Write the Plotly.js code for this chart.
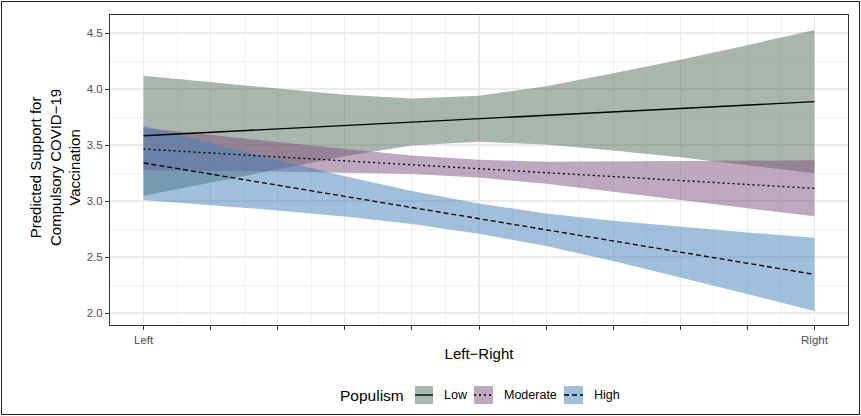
<!DOCTYPE html>
<html>
<head>
<meta charset="utf-8">
<script src="https://cdn.plot.ly/plotly-3.0.1.min.js"></script>
<style>
  html, body { margin: 0; padding: 0; background: #fff; }
  #wrap { position: relative; width: 861px; height: 416px; }
  #plot { width: 861px; height: 416px; }
  #frame { position: absolute; left: 1px; top: 1px; width: 857px; height: 412px; border: 1px solid #222; pointer-events: none; }
</style>
</head>
<body>
<div id="wrap"><div id="plot"></div><div id="frame"></div></div>
<script>
// ----- data -----
const leftRight = [0, 1, 2, 3, 4, 5, 6, 7, 8, 9, 10];
const xTickText = ["Left", "", "", "", "", "", "", "", "", "", "Right"];
const groups = ["Low", "Moderate", "High"];

const lowFit   = [3.583, 3.613, 3.644, 3.674, 3.705, 3.735, 3.765, 3.796, 3.826, 3.857, 3.887];
const lowUpper = [4.118, 4.058, 4.004, 3.949, 3.915, 3.940, 4.025, 4.141, 4.261, 4.392, 4.527];
const lowLower = [3.048, 3.168, 3.284, 3.399, 3.495, 3.530, 3.505, 3.451, 3.391, 3.322, 3.247];

const modFit   = [3.464, 3.429, 3.394, 3.359, 3.324, 3.289, 3.253, 3.218, 3.183, 3.148, 3.113];
const modUpper = [3.654, 3.589, 3.524, 3.464, 3.407, 3.369, 3.351, 3.353, 3.355, 3.358, 3.363];
const modLower = [3.274, 3.269, 3.264, 3.254, 3.241, 3.209, 3.155, 3.083, 3.011, 2.938, 2.863];

const highFit   = [3.340, 3.241, 3.141, 3.042, 2.942, 2.843, 2.743, 2.644, 2.544, 2.445, 2.345];
const highUpper = [3.670, 3.516, 3.366, 3.222, 3.089, 2.978, 2.888, 2.824, 2.769, 2.720, 2.673];
const highLower = [3.010, 2.966, 2.916, 2.862, 2.795, 2.708, 2.598, 2.464, 2.319, 2.170, 2.017];

// ----- styling -----
const FONT = "Liberation Sans, Arial, Helvetica, sans-serif";
const fillColors = ["rgba(85,107,91,0.5)", "rgba(125,81,125,0.5)", "rgba(65,127,181,0.5)"];
const dashes = ["solid", "2px,3px", "5px,3px"];

const series = [
  { fit: lowFit, up: lowUpper, lo: lowLower },
  { fit: modFit, up: modUpper, lo: modLower },
  { fit: highFit, up: highUpper, lo: highLower }
];

const traces = [];
series.forEach((s, i) => {
  traces.push({
    type: "scatter", mode: "lines",
    x: leftRight.concat(leftRight.slice().reverse()),
    y: s.up.concat(s.lo.slice().reverse()),
    fill: "toself", fillcolor: fillColors[i],
    line: { width: 0, color: "rgba(0,0,0,0)" },
    hoverinfo: "skip", showlegend: false, name: groups[i] + " CI"
  });
});
series.forEach((s, i) => {
  traces.push({
    type: "scatter", mode: "lines",
    x: leftRight, y: s.fit,
    line: { color: "#000", width: 1.3, dash: dashes[i] },
    showlegend: false, name: groups[i]
  });
});

// plot area geometry (px) for placing legend/titles in paper units
const L = 110, R = 848, T = 15, B = 325;
const W = R - L, H = B - T;
const px = v => (v - L) / W;
const py = v => (B - v) / H;

const shapes = [];
const annotations = [];
const keys = [[415, 433], [474, 493], [564, 583]];
const labX = [442, 502, 592];
keys.forEach((k, i) => {
  shapes.push({ type: "rect", xref: "paper", yref: "paper",
    x0: px(k[0]), x1: px(k[1]), y0: py(404), y1: py(386),
    fillcolor: fillColors[i], line: { width: 0 } });
  shapes.push({ type: "line", xref: "paper", yref: "paper",
    x0: px(k[0]), x1: px(k[1]), y0: py(395), y1: py(395),
    line: { color: "#000", width: 1.3, dash: dashes[i] } });
  annotations.push({ xref: "paper", yref: "paper", x: px(labX[i]), y: py(395),
    xanchor: "left", yanchor: "middle", showarrow: false,
    text: groups[i], font: { family: FONT, size: 12.5, color: "#000" } });
});
annotations.push({ xref: "paper", yref: "paper", x: px(406), y: py(395),
  xanchor: "right", yanchor: "middle", showarrow: false,
  text: "Populism", font: { family: FONT, size: 15.5, color: "#000" } });
annotations.push({ xref: "paper", yref: "paper", x: px(55), y: py(168),
  xanchor: "center", yanchor: "middle", showarrow: false, textangle: -90,
  text: "Predicted Support for<br>Compulsory COVID\u221219<br>Vaccination",
  font: { family: FONT, size: 15, color: "#000" } });

const layout = {
  width: 861, height: 416,
  margin: { l: L, r: 861 - R, t: T, b: 416 - B, pad: 0 },
  paper_bgcolor: "#fff", plot_bgcolor: "#fff",
  font: { family: FONT },
  showlegend: false,
  xaxis: {
    range: [-0.5, 10.5],
    tickmode: "array", tickvals: leftRight, ticktext: xTickText,
    ticks: "outside", ticklen: 4, tickwidth: 1, tickcolor: "#333",
    tickfont: { family: FONT, size: 11.5, color: "#4d4d4d" },
    showgrid: true, gridcolor: "#ebebeb", gridwidth: 1.1,
    minor: { tickmode: "linear", tick0: 0.5, dtick: 1, showgrid: true, gridcolor: "#ebebeb", gridwidth: 0.6, ticklen: 0 },
    zeroline: false, showline: true, linecolor: "#333", linewidth: 1, mirror: true,
    title: { text: "Left\u2212Right", font: { family: FONT, size: 15, color: "#000" }, standoff: 3 }
  },
  yaxis: {
    range: [1.893, 4.661],
    tickmode: "linear", tick0: 2.0, dtick: 0.5, tickformat: ".1f",
    ticks: "outside", ticklen: 4, tickwidth: 1, tickcolor: "#333",
    tickfont: { family: FONT, size: 11.5, color: "#4d4d4d" },
    showgrid: true, gridcolor: "#ebebeb", gridwidth: 1.1,
    minor: { tickmode: "linear", tick0: 2.25, dtick: 0.5, showgrid: true, gridcolor: "#ebebeb", gridwidth: 0.6, ticklen: 0 },
    zeroline: false, showline: true, linecolor: "#333", linewidth: 1, mirror: true
  },
  shapes: shapes,
  annotations: annotations
};

Plotly.newPlot("plot", traces, layout, { displayModeBar: false, staticPlot: true });
</script>
</body>
</html>
